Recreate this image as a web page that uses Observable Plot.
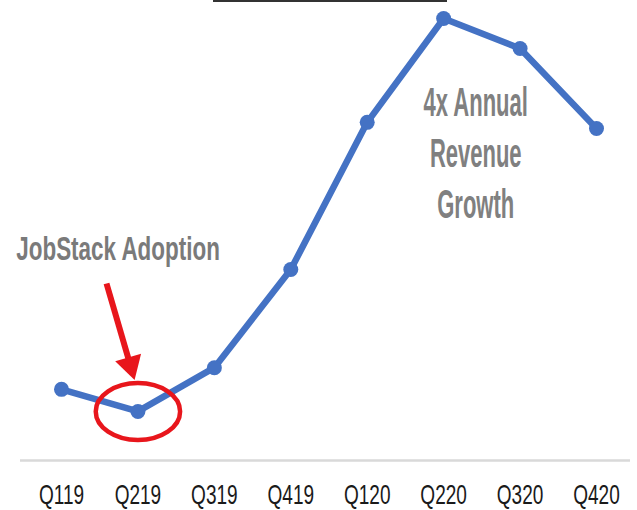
<!DOCTYPE html>
<html><head><meta charset="utf-8">
<script src="https://cdn.jsdelivr.net/npm/d3@7"></script>
<script src="https://cdn.jsdelivr.net/npm/@observablehq/plot@0.6"></script>
<style>
html,body{margin:0;padding:0;background:#fff;}
#wrap{position:relative;width:637px;height:510px;overflow:hidden;}
#topline{position:absolute;left:213px;top:0;width:234px;height:2px;background:#333;}
#chart svg{display:block;}
</style></head><body>
<div id="wrap"><div id="chart"></div><div id="topline"></div></div>
<script>
// ---- data ----
const quarters = ["Q119","Q219","Q319","Q419","Q120","Q220","Q320","Q420"];
const revenue  = [16.1, 11.1, 21.0, 43.2, 76.5, 100, 93.2, 75.1];
const highlightIndex = 1;
const adoptionNote = [{x: 0.74, y: 47.9, text: "JobStack Adoption"}];
const growthNote   = [{x: 5.42, y: 70.1, text: "4x Annual\nRevenue\nGrowth"}];
const arrowShaft   = [{x1: 0.589, y1: 40.05, x2: 0.883, y2: 22.6}];
const arrowHead    = [{x: 0.900, y: 21.6}];

const blue = "#4472c4", red = "#e8161c";
const data = quarters.map((q, i) => ({i, q, v: revenue[i]}));

const chart = Plot.plot({
  width: 637, height: 510,
  marginTop: 18, marginBottom: 50, marginLeft: 20, marginRight: 7,
  x: {type: "linear", domain: [0, 7], axis: null, insetLeft: 41, insetRight: 34},
  y: {type: "linear", domain: [0, 100], axis: null},
  style: {fontFamily: "'Liberation Sans', Arial, sans-serif", background: "white", overflow: "visible"},
  marks: [
    Plot.ruleY([0], {stroke: "#d9d9d9", strokeWidth: 2.5}),
    Plot.line(data, {x: "i", y: "v", stroke: blue, strokeWidth: 6.5, strokeLinejoin: "round"}),
    Plot.dot(data, {x: "i", y: "v", r: 7.5, fill: blue}),
    Plot.dot([data[highlightIndex]], {x: "i", y: "v", r: 28.5, stroke: red, strokeWidth: 4.5, fill: "none", ariaDescription: "highlight"}),
    Plot.link(arrowShaft, {x1: "x1", y1: "y1", x2: "x2", y2: "y2", stroke: red, strokeWidth: 6}),
    Plot.dot(arrowHead, {x: "x", y: "y", symbol: "triangle", r: 10, fill: red, stroke: "none", ariaDescription: "arrowhead"}),
    Plot.text(data, {x: "i", y: () => 0, text: "q", lineAnchor: "top", dy: 24, fontSize: 28, fill: "#1a1a1a", ariaDescription: "ticks"}),
    Plot.text(adoptionNote, {x: "x", y: "y", text: "text", fontSize: 33.5, fontWeight: "bold", fill: "#7a7a7a", ariaDescription: "adoption"}),
    Plot.text(growthNote, {x: "x", y: "y", text: "text", fontSize: 40, lineHeight: 1.275, fontWeight: "bold", fill: "#808080", ariaDescription: "growth"})
  ]
});
document.getElementById("chart").appendChild(chart);

// horizontal condensing of text, to match the reference's narrow lettering
function squeeze(desc, s) {
  chart.querySelectorAll(`g[aria-description="${desc}"] text`).forEach(el => {
    const t = el.getAttribute("transform");
    if (t) el.setAttribute("transform", `${t} scale(${s},1)`);
    else {
      const x = +el.getAttribute("x") || 0;
      el.setAttribute("transform", `translate(${x},0) scale(${s},1) translate(${-x},0)`);
    }
  });
}
squeeze("ticks", 0.68);
squeeze("adoption", 0.67);
squeeze("growth", 0.55);

// ellipse around the highlighted quarter
chart.querySelectorAll('g[aria-description="highlight"] circle, g[aria-description="highlight"] path').forEach(el => {
  el.style.vectorEffect = "non-scaling-stroke";
  const t = el.getAttribute("transform");
  if (el.tagName === "circle") {
    const cx = +el.getAttribute("cx");
    el.setAttribute("transform", `${t ? t + " " : ""}translate(${cx},0) scale(1.48,1) translate(${-cx},0)`);
  } else if (t) el.setAttribute("transform", `${t} scale(1.48,1)`);
});
// arrowhead points along the shaft
chart.querySelectorAll('g[aria-description="arrowhead"] path').forEach(el => {
  const t = el.getAttribute("transform") || "";
  el.setAttribute("transform", `${t} rotate(164)`);
});
</script>
</body></html>
